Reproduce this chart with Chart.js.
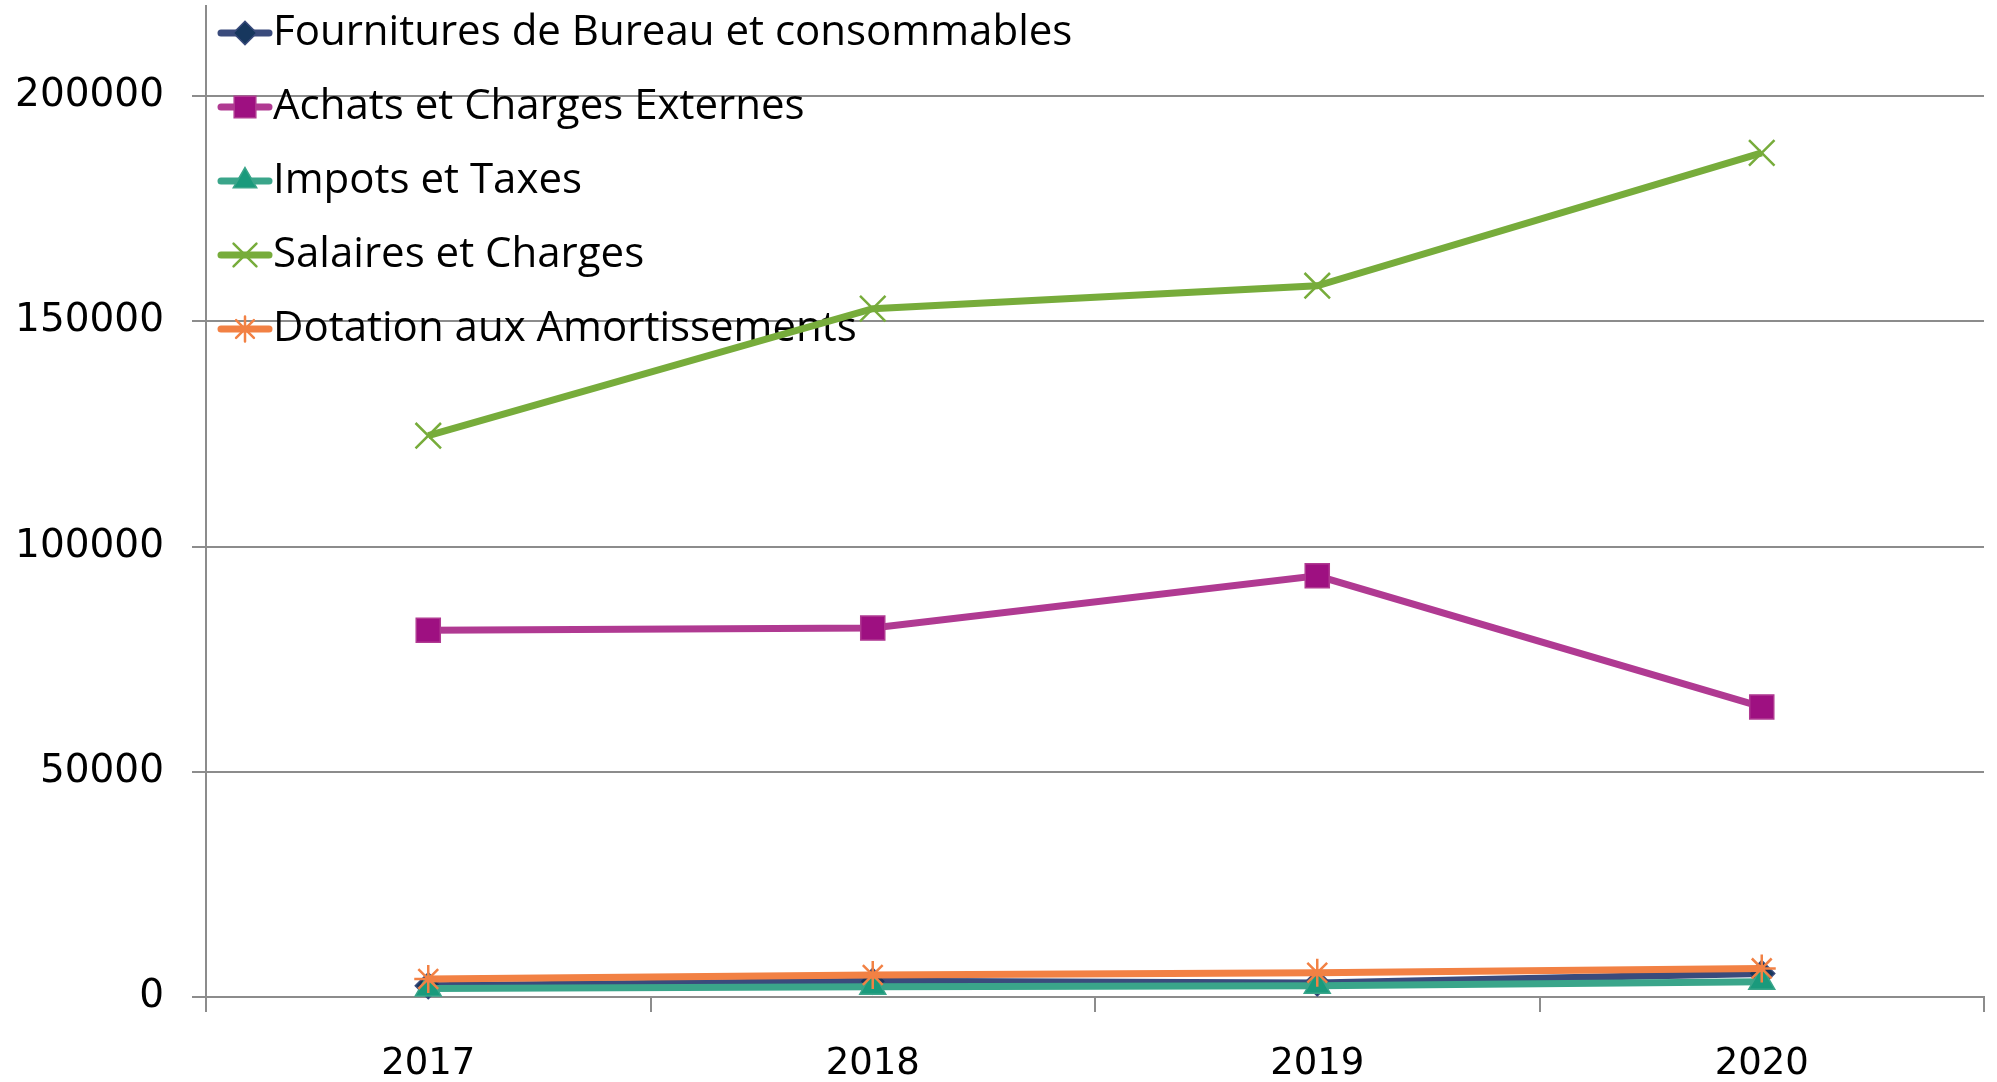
<!DOCTYPE html>
<html>
<head>
<meta charset="utf-8">
<script src="https://cdn.jsdelivr.net/npm/chart.js@4.4.1/dist/chart.umd.min.js"></script>
<style>
  html, body { margin: 0; padding: 0; background: #fff; }
  #wrap { width: 1997px; height: 1082px; }
</style>
</head>
<body>
<div id="wrap"><canvas id="chart" width="1997" height="1082"></canvas></div>
<script>
const years = ["2017", "2018", "2019", "2020"];
const fournitures = [2500, 3500, 3100, 5200];
const achats = [81400, 81900, 93500, 64400];
const impots = [1900, 2300, 2500, 3400];
const salaires = [124600, 152800, 157900, 187400];
const dotation = [4000, 4900, 5400, 6350];
const yTicks = [0, 50000, 100000, 150000, 200000];

const gridGray = "#8c8c8c";

const series = [
  { label: "Fournitures de Bureau et consommables", data: fournitures, line: "#3a4b7c", fill: "#17375e", style: "rectRot", r: 13, bw: 1.5 },
  { label: "Achats et Charges Externes", data: achats, line: "#b03a92", fill: "#9e1081", style: "rect", r: 17, bw: 1.5 },
  { label: "Impots et Taxes", data: impots, line: "#3aa58a", fill: "#1a9a7c", style: "triangle", r: 15, bw: 1.5 },
  { label: "Salaires et Charges", data: salaires, line: "#77ac3b", fill: "#77ac3b", style: "crossRot", r: 18, bw: 2.5 },
  { label: "Dotation aux Amortissements", data: dotation, line: "#f28144", fill: "#f28144", style: "star", r: 14, bw: 2.5 }
];

// legend sample: short line with the marker on it
function legendIcon(s) {
  const c = document.createElement("canvas");
  c.width = 58; c.height = 38;
  const ctx = c.getContext("2d");
  ctx.strokeStyle = s.line;
  ctx.lineWidth = 7;
  ctx.lineCap = "round";
  ctx.beginPath();
  ctx.moveTo(5, 19);
  ctx.lineTo(53, 19);
  ctx.stroke();
  ctx.fillStyle = s.fill;
  ctx.strokeStyle = s.style === "crossRot" || s.style === "star" ? s.fill : s.line;
  ctx.lineWidth = s.bw;
  Chart.helpers.drawPoint(ctx, { pointStyle: s.style, radius: s.r * 0.9, rotation: 0, borderWidth: s.bw }, 29, 19);
  return c;
}

const datasets = series.map((s, i) => ({
  label: s.label,
  data: s.data,
  borderColor: s.line,
  backgroundColor: s.fill,
  borderWidth: 7,
  tension: 0,
  pointStyle: s.style,
  pointRadius: s.r,
  pointBackgroundColor: s.fill,
  pointBorderColor: s.style === "crossRot" || s.style === "star" ? s.fill : s.line,
  pointBorderWidth: s.bw,
  order: series.length - 1 - i,
  clip: false,
  icon: legendIcon(s)
}));

// legend sits inside the plot, nudge it up like the original
const legendShift = {
  id: "legendShift",
  afterLayout(chart) {
    chart.legend.top -= 20;
  }
};

new Chart(document.getElementById("chart"), {
  type: "line",
  data: { labels: years, datasets },
  plugins: [legendShift],
  options: {
    responsive: false,
    animation: false,
    layout: { autoPadding: false, padding: { left: 0, right: 13, top: 6, bottom: 0 } },
    plugins: {
      tooltip: { enabled: false },
      legend: {
        position: "chartArea",
        align: "start",
        reverse: true,
        labels: {
          usePointStyle: true,
          pointStyleWidth: 14,
          padding: 32,
          color: "#000",
          font: { family: "'Open Sans', sans-serif", size: 42 },
          generateLabels(chart) {
            return chart._getSortedDatasetMetas().map(meta => {
              const ds = chart.data.datasets[meta.index];
              return {
                text: ds.label,
                fillStyle: ds.borderColor,
                strokeStyle: ds.borderColor,
                lineWidth: 0,
                pointStyle: ds.icon,
                hidden: false,
                datasetIndex: meta.index,
                fontColor: "#000"
              };
            });
          }
        }
      }
    },
    scales: {
      x: {
        offset: true,
        afterFit(scale) {
          scale.paddingLeft = 0;
          scale.paddingRight = 0;
          scale.height = 85;
        },
        grid: { offset: true, drawOnChartArea: false, color: gridGray, lineWidth: 2, tickLength: 15 },
        border: { color: gridGray, width: 2 },
        ticks: { color: "#000", padding: 30, maxRotation: 0, font: { family: "'DejaVu Sans', sans-serif", size: 37 } }
      },
      y: {
        min: 0,
        max: 220000,
        afterBuildTicks(scale) {
          scale.ticks = yTicks.map(v => ({ value: v }));
        },
        afterFit(scale) {
          scale.paddingTop = 0;
          scale.paddingBottom = 0;
          scale.width = 206;
        },
        grid: { color: gridGray, lineWidth: 2, tickLength: 14 },
        border: { color: gridGray, width: 2 },
        ticks: {
          color: "#000",
          padding: 28,
          font: { family: "'DejaVu Sans', sans-serif", size: 39 },
          callback: v => String(v)
        }
      }
    }
  }
});
</script>
</body>
</html>
